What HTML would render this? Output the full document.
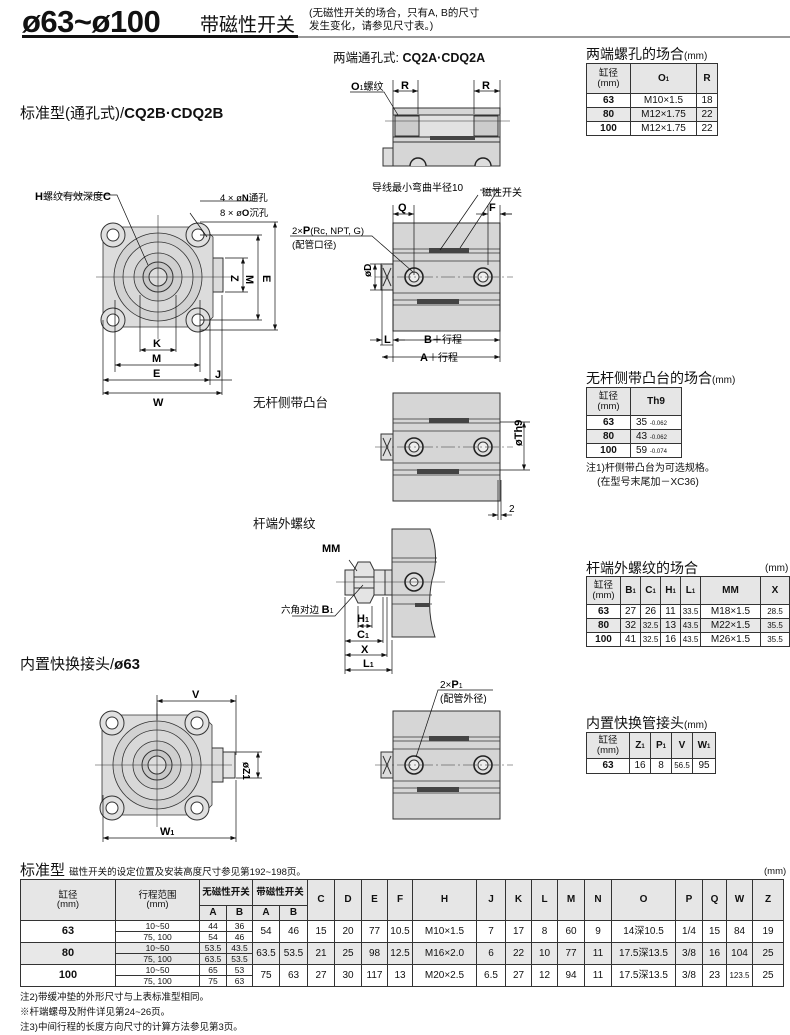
<!DOCTYPE html>
<html><head><meta charset="utf-8">
<style>
*{margin:0;padding:0;box-sizing:border-box}
body{width:790px;height:1028px;background:#fff;position:relative;overflow:hidden;font-family:"Liberation Sans","Noto Sans CJK SC",sans-serif;color:#111}
.a{position:absolute;white-space:nowrap}
table{border-collapse:collapse;position:absolute;font-size:10px;text-align:center}
td,th{border:1px solid #333;padding:0;line-height:1}
th{background:#e6e6e6;font-weight:bold}
.hd td{background:#e6e6e6}
.g td{background:#e8e8e8}
b{font-weight:bold}
.t1{font-size:14px}
.t1 small{font-size:10px;font-weight:normal}
</style></head><body>

<div class="a" style="left:22px;top:4px;font-size:31px;font-weight:bold;letter-spacing:-0.5px">ø63~ø100</div>
<div class="a" style="left:200px;top:10px;font-size:19px">带磁性开关</div>
<div class="a" style="left:309px;top:7px;font-size:10.5px;line-height:13px">(无磁性开关的场合，只有A, B的尺寸<br>发生变化，请参见尺寸表。)</div>
<div class="a" style="left:22px;top:35px;width:276px;height:3px;background:#111"></div>
<div class="a" style="left:298px;top:36px;width:492px;height:2px;background:#999"></div>

<div class="a" style="left:333px;top:47px;font-size:12.5px">两端通孔式: <b>CQ2A·CDQ2A</b></div>
<div class="a" style="left:20px;top:102px;font-size:15px">标准型(通孔式)/<b>CQ2B·CDQ2B</b></div>
<div class="a" style="left:253px;top:392px;font-size:12.5px">无杆侧带凸台</div>
<div class="a" style="left:253px;top:513px;font-size:12.5px">杆端外螺纹</div>
<div class="a" style="left:20px;top:653px;font-size:15px">内置快换接头/<b>ø63</b></div>

<svg class="a" style="left:0;top:0" width="790" height="1028" viewBox="0 0 790 1028" font-family="Liberation Sans, Noto Sans CJK SC, sans-serif" font-size="10">
<defs>
<marker id="ar" markerWidth="8" markerHeight="6" refX="8" refY="3" orient="auto-start-reverse"><path d="M0,0 L8,3 L0,6z" fill="#111"/></marker>
<g id="fv">
  <path d="M-45,-50 h90 l10,10 v80 l-10,10 h-90 l-10,-10 v-80z" fill="#dcdcdc" stroke="#333" stroke-width="0.8"/>
  <circle r="44" fill="#d2d2d2" stroke="#333" stroke-width="0.8"/>
  <circle r="35" fill="#d8d8d8" stroke="#333" stroke-width="0.8"/>
  <circle r="24" fill="#d0d0d0" stroke="#333" stroke-width="0.8"/>
  <circle r="15" fill="#c8c8c8" stroke="#333"/>
  <circle r="9" fill="#ddd" stroke="#333"/>
  <g fill="#e0e0e0" stroke="#333"><circle cx="-45" cy="-42" r="12"/><circle cx="40" cy="-42" r="12"/><circle cx="-45" cy="43" r="12"/><circle cx="40" cy="43" r="12"/></g>
  <g fill="#fff" stroke="#333"><circle cx="-45" cy="-42" r="6"/><circle cx="40" cy="-42" r="6"/><circle cx="-45" cy="43" r="6"/><circle cx="40" cy="43" r="6"/></g>
  <line x1="-62" y1="0" x2="75" y2="0" stroke="#333" stroke-width="0.6"/>
  <line x1="0" y1="-62" x2="0" y2="62" stroke="#333" stroke-width="0.6"/>
</g>
<g id="ports">
  <rect x="0" y="0" width="107" height="108" fill="#d6d6d6" stroke="#333"/>
  <g stroke="#333" stroke-width="0.8"><line x1="0" y1="26" x2="107" y2="26"/><line x1="0" y1="30" x2="107" y2="30"/><line x1="0" y1="77" x2="107" y2="77"/><line x1="0" y1="82" x2="107" y2="82"/><line x1="0" y1="38" x2="107" y2="38"/><line x1="0" y1="70" x2="107" y2="70"/></g>
  <rect x="36" y="25" width="40" height="5" fill="#444"/>
  <rect x="24" y="76" width="42" height="5" fill="#444"/>
  <rect x="-12" y="41" width="12" height="26" fill="#ddd" stroke="#333"/>
  <path d="M-10,45 L-2,63 M-2,45 L-10,63" stroke="#333"/>
  <circle cx="21" cy="54" r="9" fill="#ddd" stroke="#222" stroke-width="1.6"/><circle cx="21" cy="54" r="5" fill="#eee" stroke="#333"/>
  <circle cx="90" cy="54" r="9" fill="#ddd" stroke="#222" stroke-width="1.6"/><circle cx="90" cy="54" r="5" fill="#eee" stroke="#333"/>
  <line x1="-18" y1="54" x2="120" y2="54" stroke="#333" stroke-width="0.6" stroke-dasharray="14,3,2,3"/>
</g>
</defs>

<!-- front view 1 -->
<rect x="203" y="258" width="20" height="34" fill="#dcdcdc" stroke="#333"/>
<use href="#fv" x="158" y="277"/>
<g stroke="#111" stroke-width="0.7" fill="none">
<path d="M60,195 H117 L148,265"/><path d="M190,213 L207,237"/>
<line x1="140" y1="295" x2="140" y2="352"/><line x1="176" y1="295" x2="176" y2="352"/>
<line x1="140" y1="350" x2="176" y2="350" marker-start="url(#ar)" marker-end="url(#ar)"/>
<line x1="115" y1="300" x2="115" y2="372"/><line x1="200" y1="300" x2="200" y2="372"/>
<line x1="115" y1="365" x2="200" y2="365" marker-start="url(#ar)" marker-end="url(#ar)"/>
<line x1="103" y1="320" x2="103" y2="395"/><line x1="222" y1="295" x2="222" y2="395"/><line x1="210" y1="320" x2="210" y2="385"/>
<line x1="103" y1="380" x2="210" y2="380" marker-start="url(#ar)" marker-end="url(#ar)"/>
<line x1="103" y1="393" x2="222" y2="393" marker-start="url(#ar)" marker-end="url(#ar)"/>
<line x1="210" y1="380" x2="232" y2="380"/>
<line x1="225" y1="258" x2="248" y2="258"/><line x1="225" y1="292" x2="248" y2="292"/>
<line x1="243" y1="258" x2="243" y2="292" marker-start="url(#ar)" marker-end="url(#ar)"/>
<line x1="200" y1="235" x2="262" y2="235"/><line x1="200" y1="320" x2="262" y2="320"/>
<line x1="258" y1="235" x2="258" y2="320" marker-start="url(#ar)" marker-end="url(#ar)"/>
<line x1="200" y1="222" x2="278" y2="222"/><line x1="200" y1="330" x2="278" y2="330"/>
<line x1="275" y1="222" x2="275" y2="330" marker-start="url(#ar)" marker-end="url(#ar)"/>
<line x1="200" y1="201" x2="255" y2="201"/>
</g>
<g font-weight="bold" font-size="11">
<text x="35" y="200">H<tspan font-weight="normal" font-size="10">螺纹有效深度</tspan>C</text>
<text x="220" y="201" font-weight="normal" font-size="9.5">4 × ø<tspan font-weight="bold">N</tspan>通孔</text>
<text x="220" y="216" font-weight="normal" font-size="9.5">8 × ø<tspan font-weight="bold">O</tspan>沉孔</text>
<text x="153" y="347">K</text><text x="152" y="362">M</text><text x="153" y="377">E</text><text x="153" y="406">W</text><text x="215" y="378">J</text>
<text x="236" y="280" transform="rotate(90 236 275)">Z</text><text x="251" y="280" transform="rotate(90 251 275)">M</text><text x="268" y="280" transform="rotate(90 268 275)">E</text>
</g>

<!-- top view CQ2A -->
<rect x="393" y="108" width="107" height="58" fill="#d6d6d6" stroke="#333"/>
<rect x="393" y="115" width="107" height="22" fill="#e2e2e2" stroke="#333"/>
<rect x="395" y="116" width="24" height="20" fill="#ccc" stroke="#333"/>
<rect x="474" y="116" width="24" height="20" fill="#ccc" stroke="#333"/>
<line x1="393" y1="142" x2="500" y2="142" stroke="#333"/>
<rect x="430" y="136" width="45" height="4" fill="#444"/>
<rect x="383" y="148" width="10" height="18" fill="#ddd" stroke="#333"/>
<path d="M410,166 a8,8 0 0 1 16,0 M475,166 a8,8 0 0 1 16,0" fill="#ddd" stroke="#222" stroke-width="1.4"/>
<line x1="385" y1="121" x2="510" y2="121" stroke="#333" stroke-width="0.6"/>
<g stroke="#111" stroke-width="0.7" fill="none">
<line x1="393" y1="80" x2="393" y2="114"/><line x1="418" y1="80" x2="418" y2="114"/><line x1="474" y1="80" x2="474" y2="114"/><line x1="500" y1="80" x2="500" y2="114"/>
<line x1="393" y1="91" x2="418" y2="91" marker-start="url(#ar)" marker-end="url(#ar)"/>
<line x1="474" y1="91" x2="500" y2="91" marker-start="url(#ar)" marker-end="url(#ar)"/>
<path d="M350,92 H384 L398,115"/>
</g>
<text x="351" y="90" font-size="10"><tspan font-weight="bold" font-size="11">O</tspan><tspan font-size="7">1</tspan>螺纹</text>
<text x="401" y="89" font-weight="bold" font-size="11">R</text><text x="482" y="89" font-weight="bold" font-size="11">R</text>

<!-- side view -->
<use href="#ports" x="393" y="223"/>
<g stroke="#111" stroke-width="0.7" fill="none">
<line x1="393" y1="205" x2="393" y2="362"/><line x1="414" y1="205" x2="414" y2="275"/><line x1="500" y1="205" x2="500" y2="362"/><line x1="488" y1="205" x2="488" y2="265"/>
<line x1="393" y1="214" x2="414" y2="214" marker-start="url(#ar)" marker-end="url(#ar)"/>
<line x1="476" y1="214" x2="488" y2="214" marker-end="url(#ar)"/><line x1="500" y1="214" x2="512" y2="214"/><line x1="512" y1="214" x2="500" y2="214" marker-end="url(#ar)"/>
<path d="M290,236 H372 L413,272"/>
<path d="M478,195 L440,250"/><path d="M480,190 H498 L460,248"/><path d="M360,160"/>
<line x1="382" y1="265" x2="382" y2="345"/>
<line x1="380" y1="345" x2="393" y2="345"/>
<line x1="393" y1="340" x2="500" y2="340" marker-start="url(#ar)" marker-end="url(#ar)"/>
<line x1="382" y1="357" x2="500" y2="357" marker-start="url(#ar)" marker-end="url(#ar)"/>
<line x1="370" y1="340" x2="382" y2="340" marker-end="url(#ar)"/><line x1="405" y1="340" x2="393" y2="340"/>
<line x1="370" y1="264" x2="382" y2="264"/><line x1="370" y1="290" x2="382" y2="290"/>
<line x1="375" y1="264" x2="375" y2="290" marker-start="url(#ar)" marker-end="url(#ar)"/>
</g>
<text x="372" y="191" font-size="10">导线最小弯曲半径10</text>
<text x="482" y="196" font-size="10">磁性开关</text>
<text x="398" y="211" font-weight="bold" font-size="11">Q</text><text x="489" y="211" font-weight="bold" font-size="11">F</text>
<text x="292" y="234" font-size="9.5">2×<tspan font-weight="bold" font-size="11">P</tspan>(Rc, NPT, G)</text>
<text x="292" y="248" font-size="9.5">(配管口径)</text>
<text x="367" y="281" font-size="10" font-weight="bold" transform="rotate(-90 367 277)">øD</text>
<text x="384" y="343" font-weight="bold" font-size="11">L</text>
<text x="424" y="343" font-size="10"><tspan font-weight="bold" font-size="11">B</tspan>＋行程</text>
<text x="420" y="361" font-size="10"><tspan font-weight="bold" font-size="11">A</tspan>＋行程</text>

<!-- bump view -->
<use href="#ports" x="393" y="393"/>
<g stroke="#111" stroke-width="0.7" fill="none">
<line x1="500" y1="422" x2="530" y2="422"/><line x1="500" y1="470" x2="530" y2="470"/>
<line x1="524" y1="422" x2="524" y2="470" marker-start="url(#ar)" marker-end="url(#ar)"/>
<line x1="498" y1="480" x2="498" y2="520"/><line x1="501" y1="480" x2="501" y2="520"/>
<line x1="488" y1="515" x2="498" y2="515" marker-end="url(#ar)"/><line x1="512" y1="515" x2="501" y2="515" marker-end="url(#ar)"/>
</g>
<text x="518" y="450" font-weight="bold" font-size="11" transform="rotate(-90 518 446)">øTh9</text>
<text x="509" y="512" font-size="10">2</text>

<!-- rod end -->
<path d="M392,529 H430 Q440,555 432,580 Q426,610 435,637 H392z" fill="#d6d6d6" stroke="#333"/>
<g stroke="#333" stroke-width="0.8"><line x1="392" y1="558" x2="437" y2="558"/><line x1="392" y1="562" x2="437" y2="562"/><line x1="392" y1="595" x2="432" y2="595"/><line x1="392" y1="604" x2="432" y2="604"/></g>
<rect x="415" y="603" width="15" height="4" fill="#444"/>
<circle cx="414" cy="582" r="9" fill="#ddd" stroke="#222" stroke-width="1.6"/><circle cx="414" cy="582" r="4" fill="#eee" stroke="#333"/>
<rect x="385" y="570" width="7" height="25" fill="#ddd" stroke="#333"/>
<rect x="345" y="570" width="40" height="25" fill="#e4e4e4" stroke="#333"/>
<path d="M358,562 L370,562 L374,570 L374,595 L370,603 L358,603 L354,595 L354,570z" fill="#e4e4e4" stroke="#333"/>
<line x1="354" y1="577" x2="374" y2="577" stroke="#333"/><line x1="354" y1="588" x2="374" y2="588" stroke="#333"/>
<line x1="336" y1="582" x2="445" y2="582" stroke="#333" stroke-width="0.6"/>
<g stroke="#111" stroke-width="0.7" fill="none">
<path d="M349,560 L357,571"/><path d="M292,616 H335 L363,585"/>
<line x1="345" y1="597" x2="345" y2="674"/><line x1="358" y1="606" x2="358" y2="628"/><line x1="372" y1="606" x2="372" y2="628"/>
<line x1="383" y1="597" x2="383" y2="643"/><line x1="387" y1="597" x2="387" y2="657"/><line x1="392" y1="640" x2="392" y2="674"/>
<line x1="358" y1="626" x2="372" y2="626" marker-start="url(#ar)" marker-end="url(#ar)"/>
<line x1="345" y1="641" x2="383" y2="641" marker-start="url(#ar)" marker-end="url(#ar)"/>
<line x1="345" y1="655" x2="387" y2="655" marker-start="url(#ar)" marker-end="url(#ar)"/>
<line x1="345" y1="670" x2="392" y2="670" marker-start="url(#ar)" marker-end="url(#ar)"/>
</g>
<text x="322" y="552" font-weight="bold" font-size="11">MM</text>
<text x="281" y="613" font-size="9.5">六角对边 <tspan font-weight="bold" font-size="11">B</tspan><tspan font-size="7">1</tspan></text>
<text x="357" y="622" font-weight="bold" font-size="11">H<tspan font-size="7">1</tspan></text>
<text x="357" y="638" font-weight="bold" font-size="11">C<tspan font-size="7">1</tspan></text>
<text x="361" y="653" font-weight="bold" font-size="11">X</text>
<text x="363" y="667" font-weight="bold" font-size="11">L<tspan font-size="7">1</tspan></text>

<!-- front view 2 -->
<rect x="203" y="748" width="20" height="34" fill="#dcdcdc" stroke="#333"/>
<rect x="223" y="752" width="12" height="26" fill="#e4e4e4" stroke="#333"/>
<use href="#fv" x="157" y="765"/>
<g stroke="#111" stroke-width="0.7" fill="none">
<line x1="157" y1="695" x2="157" y2="720"/><line x1="236" y1="695" x2="236" y2="755"/>
<line x1="157" y1="701" x2="236" y2="701" marker-start="url(#ar)" marker-end="url(#ar)"/>
<line x1="103" y1="795" x2="103" y2="842"/><line x1="236" y1="780" x2="236" y2="842"/>
<line x1="103" y1="838" x2="236" y2="838" marker-start="url(#ar)" marker-end="url(#ar)"/>
<line x1="236" y1="752" x2="262" y2="752"/><line x1="236" y1="778" x2="262" y2="778"/>
<line x1="258" y1="752" x2="258" y2="778" marker-start="url(#ar)" marker-end="url(#ar)"/>
</g>
<text x="192" y="698" font-weight="bold" font-size="11">V</text>
<text x="160" y="835" font-weight="bold" font-size="11">W<tspan font-size="7">1</tspan></text>
<text x="245" y="770" font-weight="bold" font-size="10" transform="rotate(90 248 765)">øZ1</text>

<!-- bottom mid view -->
<use href="#ports" x="393" y="711"/>
<g stroke="#111" stroke-width="0.7" fill="none"><path d="M493,690 H438 L416,757"/></g>
<text x="440" y="688" font-size="10">2×<tspan font-weight="bold" font-size="11">P</tspan><tspan font-size="7">1</tspan></text>
<text x="440" y="702" font-size="10">(配管外径)</text>
</svg>

<!-- Table 1 -->
<div class="a t1" style="left:586px;top:44px">两端螺孔的场合<small>(mm)</small></div>
<table style="left:586px;top:63px;width:132px">
<tr style="height:30px"><th style="width:44px;font-size:9.5px;font-weight:normal">缸径<br>(mm)</th><th style="width:66px">O<small style="font-size:6px">1</small></th><th>R</th></tr>
<tr style="height:14px"><td><b>63</b></td><td>M10×1.5</td><td>18</td></tr>
<tr style="height:14px" class="g"><td><b>80</b></td><td>M12×1.75</td><td>22</td></tr>
<tr style="height:14px"><td><b>100</b></td><td>M12×1.75</td><td>22</td></tr>
</table>

<!-- Table 2 -->
<div class="a t1" style="left:586px;top:368px">无杆侧带凸台的场合<small>(mm)</small></div>
<table style="left:586px;top:387px;width:96px">
<tr style="height:28px"><th style="width:44px;font-size:9.5px;font-weight:normal">缸径<br>(mm)</th><th>Th9</th></tr>
<tr style="height:14px"><td><b>63</b></td><td style="text-align:left;padding-left:5px">35 <small style="font-size:6px">-0.062</small></td></tr>
<tr style="height:14px" class="g"><td><b>80</b></td><td style="text-align:left;padding-left:5px">43 <small style="font-size:6px">-0.062</small></td></tr>
<tr style="height:14px"><td><b>100</b></td><td style="text-align:left;padding-left:5px">59 <small style="font-size:6px">-0.074</small></td></tr>
</table>
<div class="a" style="left:586px;top:462px;font-size:10px;line-height:14px">注1)杆侧带凸台为可选规格。<br>&nbsp;&nbsp;&nbsp;&nbsp;(在型号末尾加－XC36)</div>

<!-- Table 3 -->
<div class="a t1" style="left:586px;top:558px">杆端外螺纹的场合</div>
<div class="a" style="left:765px;top:563px;font-size:10px">(mm)</div>
<table style="left:586px;top:576px;width:204px">
<tr style="height:28px"><th style="width:34px;font-size:9.5px;font-weight:normal">缸径<br>(mm)</th><th style="width:20px">B<small style="font-size:6px">1</small></th><th style="width:20px">C<small style="font-size:6px">1</small></th><th style="width:20px">H<small style="font-size:6px">1</small></th><th style="width:20px">L<small style="font-size:6px">1</small></th><th style="width:60px">MM</th><th>X</th></tr>
<tr style="height:14px"><td><b>63</b></td><td>27</td><td>26</td><td>11</td><td style="font-size:8px">33.5</td><td>M18×1.5</td><td style="font-size:8px">28.5</td></tr>
<tr style="height:14px" class="g"><td><b>80</b></td><td>32</td><td style="font-size:8px">32.5</td><td>13</td><td style="font-size:8px">43.5</td><td>M22×1.5</td><td style="font-size:8px">35.5</td></tr>
<tr style="height:14px"><td><b>100</b></td><td>41</td><td style="font-size:8px">32.5</td><td>16</td><td style="font-size:8px">43.5</td><td>M26×1.5</td><td style="font-size:8px">35.5</td></tr>
</table>

<!-- Table 4 -->
<div class="a t1" style="left:586px;top:713px">内置快换管接头<small>(mm)</small></div>
<table style="left:586px;top:732px;width:130px">
<tr style="height:26px"><th style="width:43px;font-size:9.5px;font-weight:normal">缸径<br>(mm)</th><th style="width:21px">Z<small style="font-size:6px">1</small></th><th style="width:21px">P<small style="font-size:6px">1</small></th><th style="width:21px">V</th><th>W<small style="font-size:6px">1</small></th></tr>
<tr style="height:15px"><td><b>63</b></td><td>16</td><td>8</td><td style="font-size:8px">56.5</td><td>95</td></tr>
</table>

<!-- Bottom table -->
<div class="a" style="left:20px;top:859px;font-size:15px">标准型 <span style="font-size:9.5px">磁性开关的设定位置及安装高度尺寸参见第192~198页。</span></div>
<div class="a" style="left:764px;top:866px;font-size:9.5px">(mm)</div>
<table style="left:20px;top:879px;width:764px;font-size:10px">
<colgroup><col style="width:95px"><col style="width:84px"><col style="width:27px"><col style="width:26px"><col style="width:27px"><col style="width:28px"><col style="width:27px"><col style="width:27px"><col style="width:26px"><col style="width:25px"><col style="width:64px"><col style="width:29px"><col style="width:26px"><col style="width:26px"><col style="width:27px"><col style="width:27px"><col style="width:64px"><col style="width:27px"><col style="width:24px"><col style="width:26px"><col></colgroup>
<tr style="height:26px" class="hd"><td rowspan="2" style="font-size:9.5px">缸径<br>(mm)</td><td rowspan="2" style="font-size:9.5px">行程范围<br>(mm)</td><td colspan="2" style="font-size:9.5px"><b>无磁性开关</b></td><td colspan="2" style="font-size:9.5px"><b>带磁性开关</b></td><td rowspan="2"><b>C</b></td><td rowspan="2"><b>D</b></td><td rowspan="2"><b>E</b></td><td rowspan="2"><b>F</b></td><td rowspan="2"><b>H</b></td><td rowspan="2"><b>J</b></td><td rowspan="2"><b>K</b></td><td rowspan="2"><b>L</b></td><td rowspan="2"><b>M</b></td><td rowspan="2"><b>N</b></td><td rowspan="2"><b>O</b></td><td rowspan="2"><b>P</b></td><td rowspan="2"><b>Q</b></td><td rowspan="2"><b>W</b></td><td rowspan="2"><b>Z</b></td></tr>
<tr style="height:15px" class="hd"><td><b>A</b></td><td><b>B</b></td><td><b>A</b></td><td><b>B</b></td></tr>
<tr style="height:11px;font-size:8.5px"><td rowspan="2" style="font-size:11px"><b>63</b></td><td>10~50</td><td>44</td><td>36</td><td rowspan="2" style="font-size:10px">54</td><td rowspan="2" style="font-size:10px">46</td><td rowspan="2" style="font-size:10px">15</td><td rowspan="2" style="font-size:10px">20</td><td rowspan="2" style="font-size:10px">77</td><td rowspan="2" style="font-size:10px">10.5</td><td rowspan="2" style="font-size:10px">M10×1.5</td><td rowspan="2" style="font-size:10px">7</td><td rowspan="2" style="font-size:10px">17</td><td rowspan="2" style="font-size:10px">8</td><td rowspan="2" style="font-size:10px">60</td><td rowspan="2" style="font-size:10px">9</td><td rowspan="2" style="font-size:10px">14深10.5</td><td rowspan="2" style="font-size:10px">1/4</td><td rowspan="2" style="font-size:10px">15</td><td rowspan="2" style="font-size:10px">84</td><td rowspan="2" style="font-size:10px">19</td></tr>
<tr style="height:11px;font-size:8.5px"><td>75, 100</td><td>54</td><td>46</td></tr>
<tr style="height:11px;font-size:8.5px" class="g"><td rowspan="2" style="font-size:11px"><b>80</b></td><td>10~50</td><td>53.5</td><td>43.5</td><td rowspan="2" style="font-size:10px">63.5</td><td rowspan="2" style="font-size:10px">53.5</td><td rowspan="2" style="font-size:10px">21</td><td rowspan="2" style="font-size:10px">25</td><td rowspan="2" style="font-size:10px">98</td><td rowspan="2" style="font-size:10px">12.5</td><td rowspan="2" style="font-size:10px">M16×2.0</td><td rowspan="2" style="font-size:10px">6</td><td rowspan="2" style="font-size:10px">22</td><td rowspan="2" style="font-size:10px">10</td><td rowspan="2" style="font-size:10px">77</td><td rowspan="2" style="font-size:10px">11</td><td rowspan="2" style="font-size:10px">17.5深13.5</td><td rowspan="2" style="font-size:10px">3/8</td><td rowspan="2" style="font-size:10px">16</td><td rowspan="2" style="font-size:10px">104</td><td rowspan="2" style="font-size:10px">25</td></tr>
<tr style="height:11px;font-size:8.5px" class="g"><td>75, 100</td><td>63.5</td><td>53.5</td></tr>
<tr style="height:11px;font-size:8.5px"><td rowspan="2" style="font-size:11px"><b>100</b></td><td>10~50</td><td>65</td><td>53</td><td rowspan="2" style="font-size:10px">75</td><td rowspan="2" style="font-size:10px">63</td><td rowspan="2" style="font-size:10px">27</td><td rowspan="2" style="font-size:10px">30</td><td rowspan="2" style="font-size:10px">117</td><td rowspan="2" style="font-size:10px">13</td><td rowspan="2" style="font-size:10px">M20×2.5</td><td rowspan="2" style="font-size:10px">6.5</td><td rowspan="2" style="font-size:10px">27</td><td rowspan="2" style="font-size:10px">12</td><td rowspan="2" style="font-size:10px">94</td><td rowspan="2" style="font-size:10px">11</td><td rowspan="2" style="font-size:10px">17.5深13.5</td><td rowspan="2" style="font-size:10px">3/8</td><td rowspan="2" style="font-size:10px">23</td><td rowspan="2" style="font-size:8px">123.5</td><td rowspan="2" style="font-size:10px">25</td></tr>
<tr style="height:11px;font-size:8.5px"><td>75, 100</td><td>75</td><td>63</td></tr>
</table>
<div class="a" style="left:20px;top:990px;font-size:9.5px;line-height:15px">注2)带缓冲垫的外形尺寸与上表标准型相同。<br>※杆端螺母及附件详见第24~26页。<br>注3)中间行程的长度方向尺寸的计算方法参见第3页。</div>
</body></html>
